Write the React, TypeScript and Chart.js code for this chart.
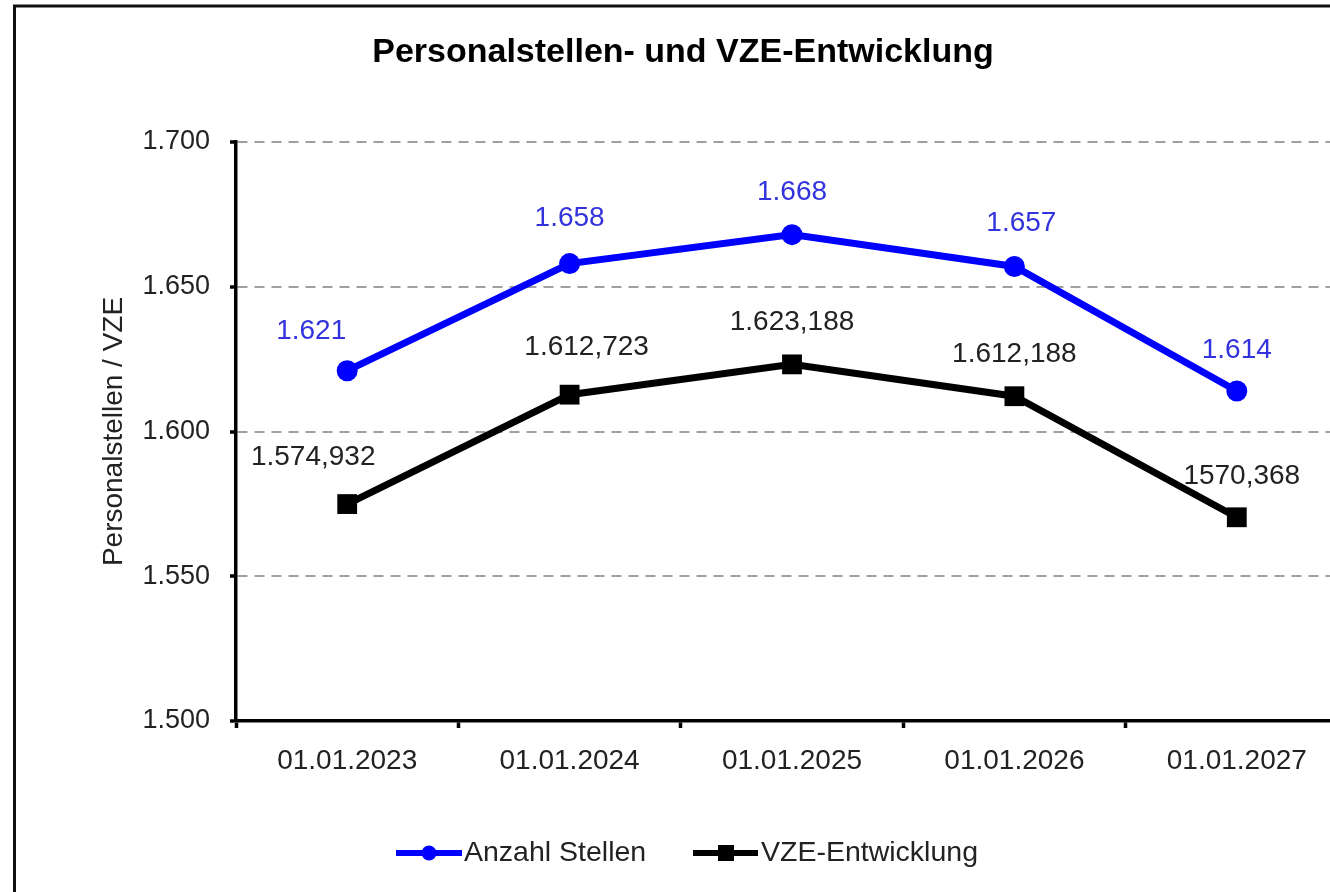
import React, { useEffect, useRef } from "react";
import { Chart, registerables } from "chart.js";

Chart.register(...registerables);

const chartTitle = "Personalstellen- und VZE-Entwicklung";
const yAxisTitle = "Personalstellen / VZE";
const categories = ["01.01.2023", "01.01.2024", "01.01.2025", "01.01.2026", "01.01.2027"];
const seriesNames = ["Anzahl Stellen", "VZE-Entwicklung"];
const stellenValues = [1621, 1658, 1668, 1657, 1614];
const vzeValues = [1574.932, 1612.723, 1623.188, 1612.188, 1570.368];
const stellenLabels = ["1.621", "1.658", "1.668", "1.657", "1.614"];
const vzeLabels = ["1.574,932", "1.612,723", "1.623,188", "1.612,188", "1570,368"];
const yMin = 1500;
const yMax = 1700;
const yStep = 50;

// label placement (styling only): [dx, dy] from the point
const stellenLabelOffsets = [[-36, -39], [0, -45], [0, -42], [7, -43], [0, -41]];
const vzeLabelOffsets = [[-34, -47], [17, -47], [0, -42], [0, -42], [5, -41]];

const FONT = "Arial, 'Liberation Sans', sans-serif";
const BLUE = "#0000ff";
const LABEL_BLUE = "#3333dd";
const TEXT = "#222222";

const fmtThousands = (v: number) =>
  String(Math.round(v)).replace(/\B(?=(\d{3})+(?!\d))/g, ".");

const decorPlugin = {
  id: "decor",
  beforeDraw(chart: any) {
    const ctx = chart.ctx;
    ctx.save();
    ctx.fillStyle = "#ffffff";
    ctx.fillRect(0, 0, chart.width, chart.height);
    ctx.restore();
  },
  afterDatasetsDraw(chart: any) {
    const ctx = chart.ctx;
    ctx.save();
    ctx.font = `28px ${FONT}`;
    ctx.textAlign = "center";
    ctx.textBaseline = "middle";
    const sets = [
      { labels: stellenLabels, offs: stellenLabelOffsets, color: LABEL_BLUE },
      { labels: vzeLabels, offs: vzeLabelOffsets, color: TEXT },
    ];
    sets.forEach((s, di) => {
      const meta = chart.getDatasetMeta(di);
      meta.data.forEach((pt: any, i: number) => {
        ctx.fillStyle = s.color;
        ctx.fillText(s.labels[i], pt.x + s.offs[i][0], pt.y + s.offs[i][1]);
      });
    });
    ctx.restore();
  },
  afterDraw(chart: any) {
    const ctx = chart.ctx;
    ctx.save();
    // title
    ctx.fillStyle = "#000";
    ctx.font = `bold 34px ${FONT}`;
    ctx.textAlign = "center";
    ctx.textBaseline = "middle";
    ctx.fillText(chartTitle, chart.width / 2, 53);

    // legend
    const ly = 853;
    ctx.font = `28.5px ${FONT}`;
    ctx.textAlign = "left";
    // series 1
    ctx.strokeStyle = BLUE;
    ctx.lineWidth = 6;
    ctx.beginPath();
    ctx.moveTo(396, ly);
    ctx.lineTo(462, ly);
    ctx.stroke();
    ctx.fillStyle = BLUE;
    ctx.beginPath();
    ctx.arc(429, ly, 7.5, 0, Math.PI * 2);
    ctx.fill();
    ctx.fillStyle = TEXT;
    ctx.fillText(seriesNames[0], 464, ly);
    // series 2
    ctx.strokeStyle = "#000";
    ctx.beginPath();
    ctx.moveTo(693, ly);
    ctx.lineTo(758, ly);
    ctx.stroke();
    ctx.fillStyle = "#000";
    ctx.fillRect(726 - 8, ly - 8, 16, 16);
    ctx.fillStyle = TEXT;
    ctx.fillText(seriesNames[1], 761, ly);

    // outer frame
    ctx.strokeStyle = "#111";
    ctx.lineWidth = 3;
    ctx.beginPath();
    ctx.moveTo(14.5, chart.height + 10);
    ctx.lineTo(14.5, 6);
    ctx.lineTo(chart.width + 10, 6);
    ctx.stroke();
    ctx.restore();
  },
};

export default function App() {
  const canvasRef = useRef<HTMLCanvasElement | null>(null);

  useEffect(() => {
    const canvas = canvasRef.current;
    if (!canvas) return;
    const chart = new Chart(canvas, {
      type: "line",
      data: {
        labels: categories,
        datasets: [
          {
            label: seriesNames[0],
            data: stellenValues,
            borderColor: BLUE,
            backgroundColor: BLUE,
            borderWidth: 7,
            pointStyle: "circle",
            pointRadius: 10.5,
            pointBackgroundColor: BLUE,
            pointBorderWidth: 0,
            tension: 0,
          },
          {
            label: seriesNames[1],
            data: vzeValues,
            borderColor: "#000",
            backgroundColor: "#000",
            borderWidth: 7,
            pointStyle: "rect",
            pointRadius: 14,
            pointBackgroundColor: "#000",
            pointBorderWidth: 0,
            tension: 0,
          },
        ],
      },
      options: {
        responsive: false,
        animation: false,
        events: [],
        layout: { padding: { left: 0, top: 142, right: 18, bottom: 0 } },
        plugins: {
          legend: { display: false },
          title: { display: false },
          tooltip: { enabled: false },
        },
        scales: {
          x: {
            type: "category",
            offset: true,
            grid: {
              offset: true,
              drawOnChartArea: false,
              drawTicks: true,
              tickLength: 7,
              tickColor: "#000",
              tickWidth: 3.5,
            },
            border: { display: true, color: "#000", width: 3.5 },
            ticks: {
              color: TEXT,
              font: { family: FONT, size: 28 },
              padding: 16,
              maxRotation: 0,
              autoSkip: false,
            },
            afterFit: (scale: any) => {
              scale.height = 171;
            },
          },
          y: {
            min: yMin,
            max: yMax,
            grid: {
              color: (c: any) => (c.tick && c.tick.value === yMin ? "rgba(0,0,0,0)" : "#a0a0a0"),
              lineWidth: 2,
              drawTicks: true,
              tickLength: 6,
              tickColor: "#000",
              tickWidth: 3.5,
              tickBorderDash: [],
            },
            border: { display: true, color: "#000", width: 3.5, dash: [10, 7] },
            ticks: {
              stepSize: yStep,
              color: TEXT,
              font: { family: FONT, size: 27 },
              padding: 20,
              callback: (v: any) => fmtThousands(Number(v)),
            },
            title: {
              display: true,
              text: yAxisTitle,
              color: TEXT,
              font: { family: FONT, size: 28 },
              padding: { top: 97, bottom: 0 },
            },
            afterFit: (scale: any) => {
              scale.width = 236;
            },
          },
        },
      },
      plugins: [decorPlugin],
    } as any);
    return () => chart.destroy();
  }, []);

  return (
    <div
      style={{
        position: "absolute",
        left: 0,
        top: 0,
        width: 1330,
        height: 892,
        overflow: "hidden",
        background: "#fff",
      }}
    >
      <canvas ref={canvasRef} width={1366} height={892} style={{ display: "block" }} />
    </div>
  );
}
